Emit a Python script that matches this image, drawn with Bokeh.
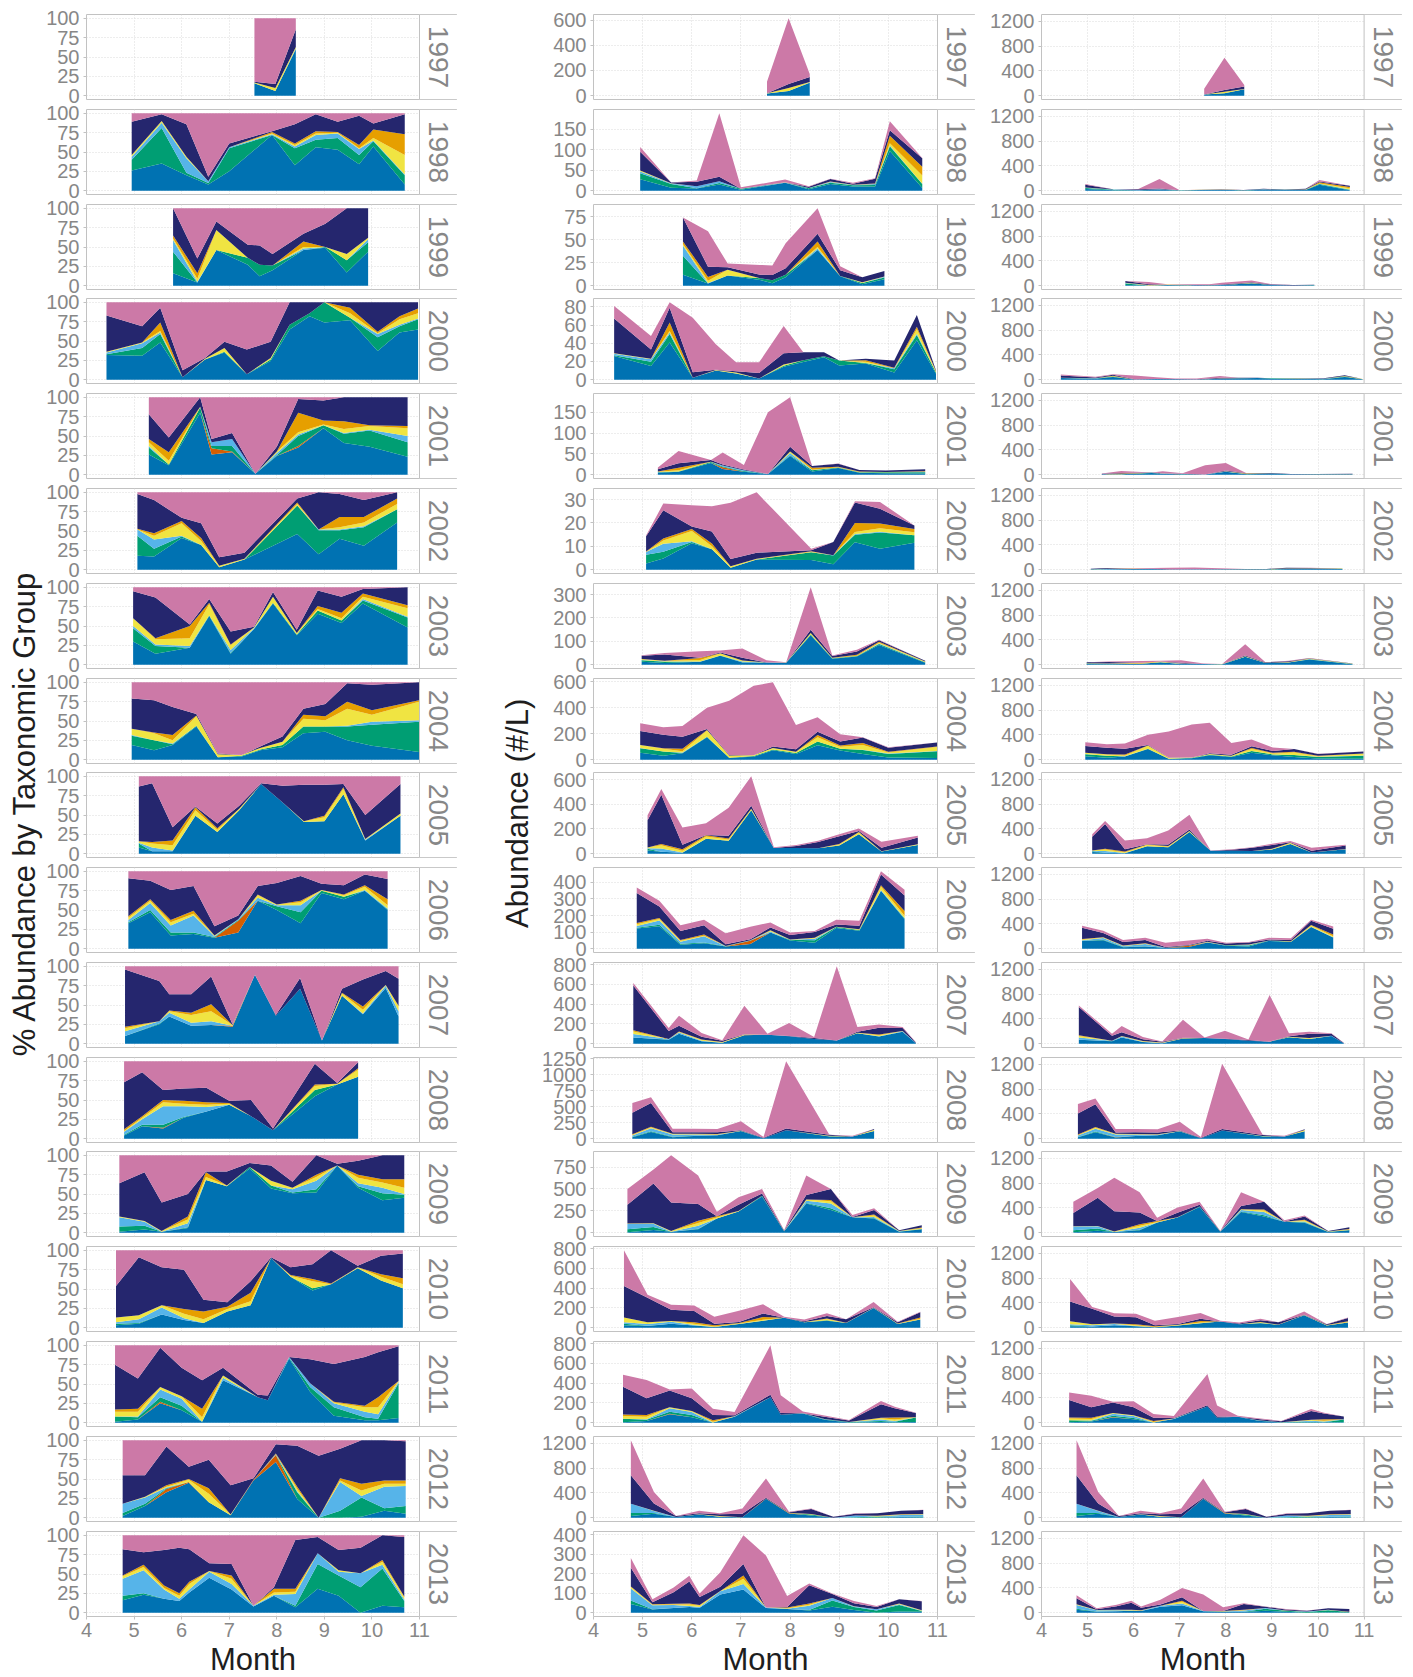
import math
from bokeh.plotting import figure
from bokeh.layouts import row, column
from bokeh.models import ColumnDataSource, FixedTicker, Range1d
from bokeh.core.properties import value
from bokeh.embed import file_html
from bokeh.resources import INLINE

# ---------------- data ----------------
# stacking order, bottom -> top
TAXA = ["Taxon 1", "Taxon 2", "Taxon 3", "Taxon 4", "Taxon 5", "Taxon 6", "Taxon 7", "Taxon 8"]
COLORS = ["#0072B2", "#D55E00", "#009E73", "#56B4E9", "#F0E442", "#E69F00", "#25266E", "#CC79A7"]

MONTH_TICKS = [4, 5, 6, 7, 8, 9, 10, 11]
PCT_TICKS = [0, 25, 50, 75, 100]
FIXED_TICKS = [0, 400, 800, 1200]

# each year: sampling month, total abundance (#/L), composition rows (per taxon, %)
MONTHS_1997 = [7.53, 7.97, 8.40]
TOTAL_1997 = [110, 613, 171]
COMP_1997 = [[16, 0, 0, 0, 1, 0, 1, 82], [6, 0, 0, 0, 4, 0, 5, 85], [60, 0, 0, 1, 2, 0, 23, 14]]

MONTHS_1998 = [4.95, 5.58, 6.10, 6.56, 7.0, 7.9, 8.38, 8.82, 9.28, 9.73, 10.03, 10.69]
TOTAL_1998 = [107, 20, 25, 189, 8, 27, 11, 29, 19, 30, 170, 80]
COMP_1998 = [[26, 0, 14, 4, 2, 0, 43, 11], [35, 0, 46, 7, 2, 0, 9, 1], [20, 0, 3, 19, 2, 0, 42, 14],
             [8, 0, 2, 2, 0, 0, 6, 82], [25, 0, 30, 1, 0, 0, 5, 39], [72, 0, 0, 1, 1, 2, 1, 23],
             [33, 0, 22, 2, 2, 2, 25, 14], [56, 0, 10, 6, 2, 3, 22, 1], [53, 0, 15, 6, 1, 1, 13, 11],
             [34, 0, 12, 8, 1, 4, 38, 3], [57, 0, 7, 1, 3, 11, 8, 13], [8, 0, 12, 1, 25, 27, 26, 1]]

MONTHS_1999 = [5.82, 6.33, 6.73, 7.39, 7.64, 7.91, 8.56, 9.02, 9.47, 9.92]
TOTAL_1999 = [74, 59, 24, 22.5, 22, 46, 84, 21, 9, 16]
COMP_1999 = [[16, 0, 28, 15, 2, 4, 35, 0], [4, 0, 0, 1, 4, 7, 19, 65], [46, 0, 0, 0, 26, 0, 11, 17],
             [27, 0, 9, 0, 0, 0, 17, 47], [12, 0, 15, 0, 0, 0, 25, 48], [20, 0, 6, 0, 0, 0, 15, 59],
             [46, 0, 0, 2, 2, 7, 10, 33], [49, 0, 1, 0, 0, 0, 30, 20], [17, 0, 16, 0, 8, 0, 59, 0],
             [44, 0, 12, 4, 2, 0, 38, 0]]

MONTHS_2000 = [4.42, 5.17, 5.55, 6.02, 6.49, 6.90, 7.37, 7.87, 8.27, 8.69, 9.0, 9.54, 10.12, 10.58, 10.97]
TOTAL_2000 = [81, 48, 85, 68, 39, 19, 19, 59, 30, 30, 21, 23, 21, 71, 10]
COMP_2000 = [[32, 0, 1, 2, 1, 0, 47, 17], [31, 0, 10, 6, 1, 0, 21, 31], [48, 0, 11, 2, 2, 11, 19, 7],
             [3, 0, 0, 0, 0, 0, 9, 88], [26, 0, 0, 0, 1, 0, 1, 72], [35, 0, 1, 0, 5, 0, 8, 51],
             [7, 0, 0, 0, 0, 0, 32, 61], [24, 0, 2, 0, 2, 0, 21, 51], [65, 0, 6, 0, 0, 0, 29, 0],
             [82, 0, 4, 0, 0, 0, 14, 0], [74, 0, 26, 0, 0, 0, 0, 0], [77, 0, 3, 0, 6, 7, 7, 0],
             [37, 0, 18, 4, 1, 2, 38, 0], [61, 0, 8, 2, 7, 4, 18, 0], [65, 0, 13, 1, 7, 6, 8, 0]]

MONTHS_2001 = [5.31, 5.73, 6.39, 6.63, 7.06, 7.55, 8.0, 8.45, 8.98, 9.41, 9.95, 10.75]
TOTAL_2001 = [17, 57, 35, 53, 23, 150, 186, 21, 27, 11, 10, 13]
COMP_2001 = [[26, 0, 9, 2, 5, 4, 32, 22], [12, 0, 1, 0, 5, 11, 19, 52], [80, 0, 7, 0, 1, 0, 12, 0],
             [26, 8, 3, 5, 0, 0, 4, 54], [29, 1, 7, 9, 0, 0, 8, 46], [1, 0, 0, 0, 0, 0, 0, 99],
             [24, 0, 1, 3, 2, 0, 6, 64], [35, 2, 13, 2, 3, 25, 18, 2], [60, 0, 4, 0, 1, 5, 26, 4],
             [41, 0, 12, 1, 5, 10, 31, 0], [36, 0, 21, 1, 5, 1, 36, 0], [23, 0, 19, 8, 10, 3, 37, 0]]

MONTHS_2002 = [5.07, 5.42, 6.0, 6.41, 6.79, 7.32, 8.43, 8.88, 9.32, 9.83, 10.53]
TOTAL_2002 = [14.6, 28.3, 27.6, 27.2, 28.6, 33.1, 9.0, 11.8, 29.3, 29.0, 18.9]
COMP_2002 = [[18, 0, 26, 8, 0, 1, 45, 2], [17, 0, 10, 12, 5, 3, 43, 10], [41, 0, 2, 1, 16, 3, 4, 33],
             [32, 0, 0, 0, 5, 4, 19, 40], [3, 0, 0, 0, 2, 0, 11, 84], [13, 0, 0, 0, 1, 0, 8, 78],
             [46, 0, 37, 0, 2, 2, 5, 8], [20, 0, 31, 1, 0, 0, 48, 0], [40, 0, 11, 1, 3, 13, 30, 2],
             [31, 0, 24, 1, 5, 7, 22, 10], [61, 0, 17, 0, 7, 7, 8, 0]]

MONTHS_2003 = [4.98, 5.45, 6.17, 6.58, 7.03, 7.52, 7.92, 8.42, 8.86, 9.36, 9.81, 10.75]
TOTAL_2003 = [40, 50, 57, 61, 69, 19, 10, 331, 39, 64, 107, 17]
COMP_2003 = [[30, 0, 17, 3, 10, 0, 35, 5], [14, 0, 10, 2, 7, 1, 53, 13], [22, 0, 0, 2, 10, 16, 2, 48],
             [63, 0, 1, 0, 14, 2, 5, 15], [14, 0, 1, 4, 6, 1, 17, 57], [46, 0, 0, 1, 1, 0, 1, 51],
             [79, 0, 1, 0, 8, 0, 6, 6], [38, 0, 1, 0, 2, 0, 4, 55], [66, 0, 4, 0, 2, 4, 20, 4],
             [54, 0, 3, 0, 3, 7, 21, 12], [79, 0, 4, 2, 3, 4, 6, 2], [48, 0, 13, 1, 11, 4, 23, 0]]

MONTHS_2004 = [4.95, 5.42, 5.81, 6.31, 6.76, 7.26, 7.65, 8.12, 8.56, 9.02, 9.48, 10.0, 10.99]
TOTAL_2004 = [280, 249, 259, 400, 454, 569, 595, 267, 326, 195, 172, 95, 131]
COMP_2004 = [[19, 0, 12, 1, 8, 0, 39, 21], [12, 0, 13, 0, 9, 1, 42, 23], [19, 0, 1, 1, 4, 7, 36, 32],
             [43, 0, 1, 0, 12, 1, 2, 41], [3, 0, 0, 0, 4, 0, 1, 92], [4, 0, 1, 0, 1, 0, 0, 94],
             [12, 0, 1, 0, 2, 0, 2, 83], [16, 0, 3, 0, 4, 0, 7, 70], [34, 0, 9, 0, 10, 5, 8, 34],
             [36, 0, 7, 0, 8, 5, 16, 28], [25, 0, 18, 1, 22, 9, 24, 1], [18, 0, 27, 4, 9, 6, 33, 3],
             [10, 0, 39, 2, 24, 2, 23, 0]]

MONTHS_2005 = [5.10, 5.38, 5.81, 6.29, 6.75, 7.21, 7.67, 8.13, 8.57, 9.0, 9.40, 9.86, 10.6]
TOTAL_2005 = [311, 525, 212, 247, 373, 627, 51, 70, 105, 158, 204, 97, 145]
COMP_2005 = [[8, 0, 5, 1, 2, 0, 71, 13], [3, 0, 0, 5, 5, 2, 76, 9], [3, 0, 0, 1, 7, 6, 17, 66],
             [49, 0, 0, 0, 7, 4, 1, 39], [28, 0, 0, 0, 3, 2, 6, 61], [56, 0, 0, 0, 2, 0, 4, 38],
             [90, 0, 0, 0, 0, 0, 1, 9], [66, 0, 0, 0, 0, 0, 22, 12], [41, 0, 0, 0, 1, 0, 47, 11],
             [42, 0, 0, 0, 5, 2, 40, 11], [77, 0, 0, 0, 7, 2, 4, 10], [17, 0, 0, 1, 1, 0, 31, 50],
             [49, 0, 0, 0, 3, 0, 38, 10]]

MONTHS_2006 = [4.88, 5.34, 5.77, 6.25, 6.69, 7.19, 7.60, 8.0, 8.50, 8.94, 9.41, 9.85, 10.33]
TOTAL_2006 = [370, 289, 141, 174, 93, 133, 158, 97, 107, 174, 168, 467, 356]
COMP_2006 = [[33, 0, 1, 3, 3, 2, 49, 9], [47, 0, 3, 9, 3, 2, 24, 12], [17, 0, 4, 9, 4, 3, 39, 24],
             [19, 0, 2, 22, 2, 4, 32, 19], [14, 0, 1, 1, 1, 0, 12, 71], [21, 15, 1, 1, 0, 0, 5, 57],
             [62, 0, 0, 4, 3, 1, 11, 19], [50, 0, 5, 1, 1, 0, 28, 15], [33, 0, 14, 9, 4, 2, 32, 6],
             [72, 0, 3, 0, 1, 0, 8, 16], [64, 0, 3, 0, 2, 1, 12, 18], [75, 0, 0, 1, 4, 2, 14, 4],
             [50, 0, 1, 1, 4, 8, 26, 10]]

MONTHS_2007 = [4.81, 5.53, 5.74, 6.20, 6.62, 7.07, 7.54, 7.98, 8.49, 8.95, 9.37, 9.81, 10.29, 10.56]
TOTAL_2007 = [615, 159, 284, 108, 34, 385, 101, 209, 68, 784, 169, 193, 169, 14]
COMP_2007 = [[10, 0, 0, 6, 4, 2, 74, 4], [25, 0, 1, 3, 0, 0, 52, 19], [35, 0, 0, 5, 2, 1, 21, 36],
             [23, 0, 0, 4, 10, 3, 24, 36], [24, 0, 0, 5, 13, 9, 36, 13], [22, 1, 0, 0, 1, 0, 1, 75],
             [89, 0, 0, 0, 0, 0, 0, 11], [36, 0, 0, 0, 0, 0, 1, 63], [71, 0, 0, 0, 0, 0, 14, 15],
             [4, 0, 0, 0, 0, 0, 0, 96], [62, 0, 0, 0, 3, 1, 5, 29], [38, 0, 0, 1, 5, 4, 35, 17],
             [72, 0, 0, 3, 1, 0, 18, 6], [35, 0, 0, 7, 6, 1, 35, 16]]

MONTHS_2008 = [4.79, 5.17, 5.61, 6.04, 6.52, 7.0, 7.46, 7.92, 8.80, 9.27, 9.71]
TOTAL_2008 = [557, 646, 156, 156, 151, 271, 26, 1208, 62, 47, 151]
COMP_2008 = [[4, 0, 1, 4, 1, 2, 61, 27], [16, 0, 2, 7, 2, 2, 57, 14], [13, 1, 4, 24, 5, 3, 13, 37],
             [27, 0, 1, 14, 3, 4, 16, 35], [35, 0, 0, 6, 3, 3, 19, 34], [44, 0, 0, 0, 1, 1, 3, 51],
             [29, 0, 0, 0, 0, 0, 21, 50], [11, 0, 0, 0, 0, 0, 2, 87], [55, 0, 8, 0, 5, 2, 27, 3],
             [70, 0, 0, 0, 1, 0, 1, 28], [80, 0, 0, 0, 9, 2, 8, 1]]

MONTHS_2009 = [4.69, 5.22, 5.58, 6.13, 6.51, 6.95, 7.43, 7.88, 8.33, 8.83, 9.27, 9.71, 10.22, 10.68]
TOTAL_2009 = [498, 722, 884, 653, 239, 405, 498, 27, 653, 498, 201, 278, 27, 85]
COMP_2009 = [[1, 0, 7, 12, 1, 0, 43, 36], [4, 0, 5, 5, 1, 0, 63, 22], [1, 0, 0, 0, 1, 0, 37, 61],
             [6, 0, 1, 5, 5, 4, 29, 50], [68, 0, 0, 0, 4, 6, 1, 21], [60, 0, 0, 0, 1, 0, 18, 21],
             [83, 0, 2, 0, 0, 0, 5, 10], [57, 0, 4, 0, 6, 0, 20, 13], [51, 0, 1, 4, 2, 0, 8, 34],
             [52, 0, 4, 11, 5, 3, 25, 0], [87, 0, 0, 0, 0, 0, 2, 11], [58, 0, 2, 4, 7, 4, 18, 7],
             [42, 0, 9, 7, 7, 4, 31, 0], [45, 0, 4, 1, 8, 11, 31, 0]]

MONTHS_2010 = [4.62, 5.10, 5.58, 6.05, 6.46, 6.96, 7.45, 7.88, 8.29, 8.75, 9.14, 9.70, 10.19, 10.65]
TOTAL_2010 = [783, 334, 231, 224, 110, 172, 238, 110, 83, 145, 86, 259, 59, 162]
COMP_2010 = [[3, 0, 2, 2, 6, 0, 41, 46], [5, 0, 1, 5, 5, 0, 75, 9], [17, 0, 0, 9, 3, 0, 49, 22],
             [10, 0, 0, 2, 6, 6, 51, 25], [6, 0, 0, 0, 5, 10, 15, 64], [21, 0, 0, 0, 3, 3, 6, 67],
             [29, 0, 0, 0, 5, 11, 15, 40], [90, 0, 0, 0, 0, 0, 1, 9], [66, 0, 0, 0, 1, 1, 10, 22],
             [48, 0, 3, 0, 9, 3, 19, 18], [56, 0, 0, 0, 0, 1, 43, 0], [77, 0, 0, 0, 1, 0, 2, 20],
             [61, 0, 0, 0, 5, 3, 24, 7], [51, 0, 0, 0, 5, 8, 32, 4]]

MONTHS_2011 = [4.60, 5.08, 5.55, 6.0, 6.43, 6.87, 7.6, 7.81, 8.26, 8.70, 9.20, 9.85, 10.13, 10.56]
TOTAL_2011 = [485, 433, 337, 347, 141, 107, 784, 278, 113, 72, 27, 220, 160, 100]
COMP_2011 = [[1, 0, 7, 0, 6, 3, 58, 25], [4, 0, 3, 1, 6, 4, 39, 43], [25, 2, 6, 10, 3, 0, 51, 3],
             [16, 0, 6, 9, 3, 0, 37, 29], [1, 0, 0, 0, 6, 11, 37, 45], [55, 0, 0, 3, 3, 0, 10, 29],
             [33, 0, 0, 0, 0, 0, 3, 64], [29, 0, 0, 0, 0, 0, 6, 65], [83, 0, 1, 1, 0, 0, 0, 15],
             [40, 0, 6, 5, 0, 0, 31, 18], [9, 0, 11, 5, 1, 1, 49, 24], [3, 0, 4, 7, 6, 2, 63, 15],
             [3, 0, 2, 6, 9, 13, 58, 9], [6, 0, 45, 2, 1, 0, 45, 1]]

MONTHS_2012 = [4.76, 5.23, 5.68, 6.15, 6.57, 7.03, 7.51, 7.98, 8.43, 8.88, 9.33, 9.78, 10.26, 10.71]
TOTAL_2012 = [1247, 412, 27, 110, 71, 148, 632, 93, 148, 16, 71, 71, 110, 126]
COMP_2012 = [[2, 0, 4, 12, 0, 0, 37, 45], [15, 0, 3, 8, 1, 0, 28, 45], [33, 4, 1, 1, 1, 2, 50, 8],
             [45, 1, 0, 0, 3, 1, 16, 34], [20, 0, 0, 0, 11, 7, 37, 25], [3, 0, 0, 0, 1, 0, 38, 58],
             [48, 1, 0, 0, 0, 0, 2, 49], [72, 9, 0, 1, 0, 1, 12, 5], [24, 0, 9, 1, 3, 3, 53, 7],
             [0, 0, 0, 0, 0, 0, 80, 20], [0, 0, 9, 37, 2, 3, 38, 11], [1, 0, 25, 2, 7, 9, 56, 0],
             [9, 0, 3, 28, 4, 4, 52, 0], [5, 0, 10, 26, 3, 4, 51, 1]]

MONTHS_2013 = [4.76, 5.20, 5.63, 5.95, 6.16, 6.58, 7.05, 7.51, 7.94, 8.39, 8.86, 9.30, 9.76, 10.22, 10.68]
TOTAL_2013 = [281, 69, 129, 190, 98, 207, 397, 293, 86, 150, 98, 60, 34, 69, 60]
COMP_2013 = [[16, 0, 6, 22, 3, 1, 34, 18], [23, 0, 2, 30, 4, 3, 16, 22], [18, 0, 0, 12, 2, 3, 46, 19],
             [15, 0, 0, 3, 4, 3, 59, 16], [26, 0, 0, 4, 7, 3, 42, 18], [45, 0, 0, 8, 1, 0, 10, 36],
             [30, 0, 0, 7, 7, 4, 15, 37], [8, 0, 0, 1, 0, 0, 0, 91], [22, 0, 0, 1, 3, 5, 2, 67],
             [7, 0, 2, 15, 3, 4, 63, 6], [31, 0, 32, 14, 0, 0, 21, 2], [22, 0, 26, 5, 2, 0, 26, 19],
             [0, 0, 33, 18, 0, 0, 33, 16], [9, 0, 48, 5, 4, 2, 32, 0], [7, 0, 8, 2, 3, 1, 77, 2]]

ABUND_TICKS = {
    1997: [0, 200, 400, 600], 1998: [0, 50, 100, 150], 1999: [0, 25, 50, 75],
    2000: [0, 20, 40, 60, 80], 2001: [0, 50, 100, 150], 2002: [0, 10, 20, 30],
    2003: [0, 100, 200, 300], 2004: [0, 200, 400, 600], 2005: [0, 200, 400, 600],
    2006: [0, 100, 200, 300, 400], 2007: [0, 200, 400, 600, 800],
    2008: [0, 250, 500, 750, 1000, 1250], 2009: [0, 250, 500, 750],
    2010: [0, 200, 400, 600, 800], 2011: [0, 200, 400, 600, 800],
    2012: [0, 400, 800, 1200], 2013: [0, 100, 200, 300, 400],
}

YEAR_DATA = [
    (1997, MONTHS_1997, TOTAL_1997, COMP_1997), (1998, MONTHS_1998, TOTAL_1998, COMP_1998),
    (1999, MONTHS_1999, TOTAL_1999, COMP_1999), (2000, MONTHS_2000, TOTAL_2000, COMP_2000),
    (2001, MONTHS_2001, TOTAL_2001, COMP_2001), (2002, MONTHS_2002, TOTAL_2002, COMP_2002),
    (2003, MONTHS_2003, TOTAL_2003, COMP_2003), (2004, MONTHS_2004, TOTAL_2004, COMP_2004),
    (2005, MONTHS_2005, TOTAL_2005, COMP_2005), (2006, MONTHS_2006, TOTAL_2006, COMP_2006),
    (2007, MONTHS_2007, TOTAL_2007, COMP_2007), (2008, MONTHS_2008, TOTAL_2008, COMP_2008),
    (2009, MONTHS_2009, TOTAL_2009, COMP_2009), (2010, MONTHS_2010, TOTAL_2010, COMP_2010),
    (2011, MONTHS_2011, TOTAL_2011, COMP_2011), (2012, MONTHS_2012, TOTAL_2012, COMP_2012),
    (2013, MONTHS_2013, TOTAL_2013, COMP_2013),
]

# ---------------- style / layout ----------------
FONT = "Liberation Sans"
TICK_COLOR = "#878787"
TITLE_COLOR = "#1e1e1e"
BORDER = "#c2c2c2"
GRID = "#dadada"
FRAME_H = 85
PAD = 12          # border above/below each frame (figures overlap through negative margins)
AXIS_B = 32       # bottom border of the last row (x tick labels)
# (left border, frame width incl. strip, panel width)
COLSPEC = [(43, 371, 333.0), (57, 382, 344.0), (66, 361, 322.6)]
FRAME_TOPS = [round(14 + i * 94.79) for i in range(len(YEAR_DATA))]
PANELS_H = FRAME_TOPS[-1] + FRAME_H


def borders(i):
    n = len(FRAME_TOPS)
    top = FRAME_TOPS[0] if i == 0 else PAD
    bot = AXIS_B if i == n - 1 else PAD
    shift = 0 if i == 0 else (FRAME_TOPS[i] - FRAME_TOPS[i - 1] - FRAME_H) - 2 * PAD
    return top, bot, shift


def make_sources(months, totals, comp):
    pct = {n: [] for n in TAXA}
    ab = {n: [] for n in TAXA}
    for tot, r in zip(totals, comp):
        s = float(sum(r))
        for n, v in zip(TAXA, r):
            pct[n].append(100.0 * v / s)
            ab[n].append(tot * v / s)
    return ColumnDataSource(dict(x=list(months), **pct)), ColumnDataSource(dict(x=list(months), **ab))


def make_panel(col, i, year, src, y0, y1, yticks):
    left, fw, pw = COLSPEC[col]
    x_end = 4 + 7 * fw / pw
    top_b, bot_b, shift = borders(i)
    bottom = i == len(YEAR_DATA) - 1
    p = figure(frame_width=fw, frame_height=FRAME_H,
               min_border_left=left, min_border_right=0,
               min_border_top=top_b, min_border_bottom=bot_b,
               x_range=Range1d(4, x_end), y_range=Range1d(y0, y1),
               x_axis_location="below" if bottom else None,
               output_backend="svg", toolbar_location=None,
               margin=(shift, 0, 0, 0))
    p.background_fill_color = "white"
    p.border_fill_color = None
    p.outline_line_color = BORDER
    p.outline_line_width = 1
    p.xgrid.ticker = FixedTicker(ticks=MONTH_TICKS)
    p.ygrid.ticker = FixedTicker(ticks=yticks)
    for g in p.grid:
        g.grid_line_color = GRID
        g.grid_line_dash = "1 2"
        g.grid_line_width = 1
    p.varea_stack(stackers=TAXA, x="x", color=COLORS, source=src)
    # facet strip
    p.quad(left=[11], right=[x_end], bottom=[y0], top=[y1],
           fill_color="white", line_color=BORDER, line_width=1)
    p.text(x=[(11 + x_end) / 2], y=[(y0 + y1) / 2], text=[str(year)], angle=-math.pi / 2,
           text_align="center", text_baseline="middle", text_font=value(FONT),
           text_font_size="28px", text_color=TICK_COLOR)
    ax = p.yaxis[0]
    ax.ticker = FixedTicker(ticks=yticks)
    ax.axis_line_color = None
    ax.major_tick_line_color = BORDER
    ax.major_tick_out = 3
    ax.major_tick_in = 0
    ax.minor_tick_line_color = None
    ax.major_label_standoff = 4
    ax.major_label_text_font = FONT
    ax.major_label_text_font_size = "20px"
    ax.major_label_text_color = TICK_COLOR
    if bottom:
        xa = p.xaxis[0]
        xa.ticker = FixedTicker(ticks=MONTH_TICKS)
        xa.axis_line_color = None
        xa.major_tick_line_color = BORDER
        xa.major_tick_out = 3
        xa.major_tick_in = 0
        xa.minor_tick_line_color = None
        xa.major_label_standoff = 3
        xa.major_label_text_font = FONT
        xa.major_label_text_font_size = "20px"
        xa.major_label_text_color = TICK_COLOR
    return p


def month_fig(col):
    left, fw, pw = COLSPEC[col]
    x_end = 4 + 7 * fw / pw
    h = 41
    p = figure(frame_width=fw, frame_height=h, min_border_left=left, min_border_right=0,
               min_border_top=0, min_border_bottom=0,
               x_range=Range1d(4, x_end), y_range=Range1d(0, h),
               x_axis_location=None, y_axis_location=None,
               output_backend="svg", toolbar_location=None,
               margin=(-12, 0, 0, 0))
    p.outline_line_color = None
    p.border_fill_color = None
    p.background_fill_color = None
    p.grid.visible = False
    p.text(x=[(MONTH_TICKS[0] + MONTH_TICKS[-1]) / 2], y=[h - 23], text=["Month"],
           text_align="center", text_baseline="middle", text_font=value(FONT),
           text_font_size="31px", text_color=TITLE_COLOR)
    return p


def title_fig(width, label, xfrac):
    p = figure(frame_width=width, frame_height=PANELS_H, min_border_left=0, min_border_right=0,
               min_border_top=0, min_border_bottom=0,
               x_range=Range1d(0, 1), y_range=Range1d(0, 1),
               x_axis_location=None, y_axis_location=None,
               output_backend="svg", toolbar_location=None)
    p.outline_line_color = None
    p.grid.visible = False
    p.text(x=[xfrac], y=[0.497], text=[label], angle=math.pi / 2,
           text_align="center", text_baseline="middle", text_font=value(FONT),
           text_font_size="31px", text_color=TITLE_COLOR)
    return p


max_all = max(max(t) for _, _, t, _ in YEAR_DATA)
cols = [[], [], []]
for i, (year, months, totals, comp) in enumerate(YEAR_DATA):
    src_pct, src_ab = make_sources(months, totals, comp)
    cols[0].append(make_panel(0, i, year, src_pct, -5, 105, PCT_TICKS))
    m = max(totals)
    cols[1].append(make_panel(1, i, year, src_ab, -0.05 * m, 1.05 * m, ABUND_TICKS[year]))
    cols[2].append(make_panel(2, i, year, src_ab, -0.05 * max_all, 1.05 * max_all, FIXED_TICKS))

layout = row(
    title_fig(43, "% Abundance by Taxonomic Group", 0.55),
    column(*cols[0], month_fig(0)),
    title_fig(79, "Abundance (#/L)", 0.76),
    column(*cols[1], month_fig(1)),
    column(*cols[2], month_fig(2)),
)

open("out.html", "w").write(file_html(layout, INLINE))
